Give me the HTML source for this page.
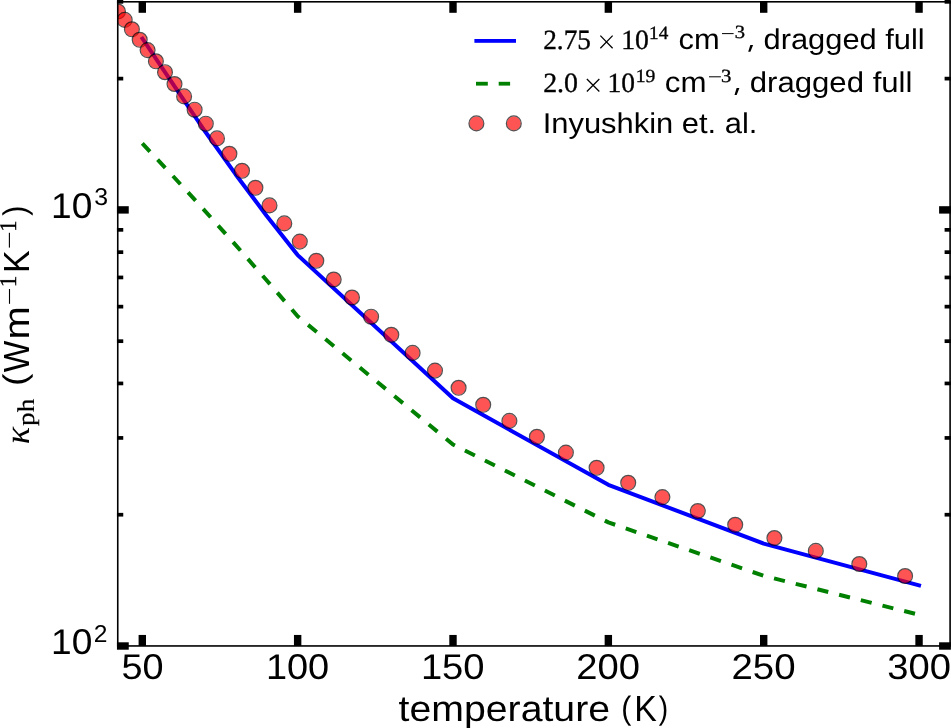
<!DOCTYPE html>
<html><head><meta charset="utf-8"><style>
html,body{margin:0;padding:0;background:#fff;}
svg{display:block;}
text{font-family:"Liberation Sans",sans-serif;text-rendering:geometricPrecision;}
.t{filter:grayscale(1);}
</style></head><body>
<svg width="951" height="728" viewBox="0 0 951 728">
<rect width="951" height="728" fill="#fff"/>
<defs><clipPath id="ax"><rect x="117.75" y="1.80" width="832.35" height="644.15"/></clipPath></defs>
<g clip-path="url(#ax)">
<polyline points="141.37,37.00 173.37,84.60 204.44,130.50 235.51,174.20 266.58,215.80 297.65,255.10 453.00,398.30 608.35,484.80 763.70,543.60 920.98,585.90" fill="none" stroke="#0000ff" stroke-width="4.00" stroke-linejoin="round" stroke-linecap="butt"/>
<polyline points="142.30,143.40 173.37,176.50 204.44,210.30 235.51,244.90 266.58,280.20 297.65,316.20 453.00,444.50 608.35,522.40 763.70,575.80 919.05,614.80" fill="none" stroke="#008000" stroke-width="4.00" stroke-linejoin="round" stroke-linecap="butt" stroke-dasharray="11.18 11.18" stroke-dashoffset="0"/>
<circle cx="118.00" cy="11.50" r="7.00" fill="#ff0000" fill-opacity="0.67"/><circle cx="118.00" cy="11.50" r="7.45" fill="none" stroke="#000" stroke-opacity="0.67" stroke-width="1.20"/>
<circle cx="124.70" cy="19.90" r="7.00" fill="#ff0000" fill-opacity="0.67"/><circle cx="124.70" cy="19.90" r="7.45" fill="none" stroke="#000" stroke-opacity="0.67" stroke-width="1.20"/>
<circle cx="131.90" cy="29.30" r="7.00" fill="#ff0000" fill-opacity="0.67"/><circle cx="131.90" cy="29.30" r="7.45" fill="none" stroke="#000" stroke-opacity="0.67" stroke-width="1.20"/>
<circle cx="139.70" cy="39.80" r="7.00" fill="#ff0000" fill-opacity="0.67"/><circle cx="139.70" cy="39.80" r="7.45" fill="none" stroke="#000" stroke-opacity="0.67" stroke-width="1.20"/>
<circle cx="147.60" cy="50.10" r="7.00" fill="#ff0000" fill-opacity="0.67"/><circle cx="147.60" cy="50.10" r="7.45" fill="none" stroke="#000" stroke-opacity="0.67" stroke-width="1.20"/>
<circle cx="155.90" cy="61.30" r="7.00" fill="#ff0000" fill-opacity="0.67"/><circle cx="155.90" cy="61.30" r="7.45" fill="none" stroke="#000" stroke-opacity="0.67" stroke-width="1.20"/>
<circle cx="165.00" cy="72.20" r="7.00" fill="#ff0000" fill-opacity="0.67"/><circle cx="165.00" cy="72.20" r="7.45" fill="none" stroke="#000" stroke-opacity="0.67" stroke-width="1.20"/>
<circle cx="174.50" cy="84.00" r="7.00" fill="#ff0000" fill-opacity="0.67"/><circle cx="174.50" cy="84.00" r="7.45" fill="none" stroke="#000" stroke-opacity="0.67" stroke-width="1.20"/>
<circle cx="184.10" cy="96.40" r="7.00" fill="#ff0000" fill-opacity="0.67"/><circle cx="184.10" cy="96.40" r="7.45" fill="none" stroke="#000" stroke-opacity="0.67" stroke-width="1.20"/>
<circle cx="194.60" cy="109.70" r="7.00" fill="#ff0000" fill-opacity="0.67"/><circle cx="194.60" cy="109.70" r="7.45" fill="none" stroke="#000" stroke-opacity="0.67" stroke-width="1.20"/>
<circle cx="205.80" cy="123.70" r="7.00" fill="#ff0000" fill-opacity="0.67"/><circle cx="205.80" cy="123.70" r="7.45" fill="none" stroke="#000" stroke-opacity="0.67" stroke-width="1.20"/>
<circle cx="217.00" cy="138.40" r="7.00" fill="#ff0000" fill-opacity="0.67"/><circle cx="217.00" cy="138.40" r="7.45" fill="none" stroke="#000" stroke-opacity="0.67" stroke-width="1.20"/>
<circle cx="229.40" cy="153.80" r="7.00" fill="#ff0000" fill-opacity="0.67"/><circle cx="229.40" cy="153.80" r="7.45" fill="none" stroke="#000" stroke-opacity="0.67" stroke-width="1.20"/>
<circle cx="242.00" cy="170.80" r="7.00" fill="#ff0000" fill-opacity="0.67"/><circle cx="242.00" cy="170.80" r="7.45" fill="none" stroke="#000" stroke-opacity="0.67" stroke-width="1.20"/>
<circle cx="255.40" cy="187.80" r="7.00" fill="#ff0000" fill-opacity="0.67"/><circle cx="255.40" cy="187.80" r="7.45" fill="none" stroke="#000" stroke-opacity="0.67" stroke-width="1.20"/>
<circle cx="269.50" cy="205.40" r="7.00" fill="#ff0000" fill-opacity="0.67"/><circle cx="269.50" cy="205.40" r="7.45" fill="none" stroke="#000" stroke-opacity="0.67" stroke-width="1.20"/>
<circle cx="284.30" cy="223.40" r="7.00" fill="#ff0000" fill-opacity="0.67"/><circle cx="284.30" cy="223.40" r="7.45" fill="none" stroke="#000" stroke-opacity="0.67" stroke-width="1.20"/>
<circle cx="299.80" cy="241.60" r="7.00" fill="#ff0000" fill-opacity="0.67"/><circle cx="299.80" cy="241.60" r="7.45" fill="none" stroke="#000" stroke-opacity="0.67" stroke-width="1.20"/>
<circle cx="316.30" cy="260.80" r="7.00" fill="#ff0000" fill-opacity="0.67"/><circle cx="316.30" cy="260.80" r="7.45" fill="none" stroke="#000" stroke-opacity="0.67" stroke-width="1.20"/>
<circle cx="333.70" cy="279.50" r="7.00" fill="#ff0000" fill-opacity="0.67"/><circle cx="333.70" cy="279.50" r="7.45" fill="none" stroke="#000" stroke-opacity="0.67" stroke-width="1.20"/>
<circle cx="352.00" cy="297.50" r="7.00" fill="#ff0000" fill-opacity="0.67"/><circle cx="352.00" cy="297.50" r="7.45" fill="none" stroke="#000" stroke-opacity="0.67" stroke-width="1.20"/>
<circle cx="371.10" cy="316.70" r="7.00" fill="#ff0000" fill-opacity="0.67"/><circle cx="371.10" cy="316.70" r="7.45" fill="none" stroke="#000" stroke-opacity="0.67" stroke-width="1.20"/>
<circle cx="391.30" cy="334.80" r="7.00" fill="#ff0000" fill-opacity="0.67"/><circle cx="391.30" cy="334.80" r="7.45" fill="none" stroke="#000" stroke-opacity="0.67" stroke-width="1.20"/>
<circle cx="412.60" cy="352.90" r="7.00" fill="#ff0000" fill-opacity="0.67"/><circle cx="412.60" cy="352.90" r="7.45" fill="none" stroke="#000" stroke-opacity="0.67" stroke-width="1.20"/>
<circle cx="435.00" cy="370.60" r="7.00" fill="#ff0000" fill-opacity="0.67"/><circle cx="435.00" cy="370.60" r="7.45" fill="none" stroke="#000" stroke-opacity="0.67" stroke-width="1.20"/>
<circle cx="458.60" cy="387.80" r="7.00" fill="#ff0000" fill-opacity="0.67"/><circle cx="458.60" cy="387.80" r="7.45" fill="none" stroke="#000" stroke-opacity="0.67" stroke-width="1.20"/>
<circle cx="483.20" cy="404.80" r="7.00" fill="#ff0000" fill-opacity="0.67"/><circle cx="483.20" cy="404.80" r="7.45" fill="none" stroke="#000" stroke-opacity="0.67" stroke-width="1.20"/>
<circle cx="509.40" cy="420.90" r="7.00" fill="#ff0000" fill-opacity="0.67"/><circle cx="509.40" cy="420.90" r="7.45" fill="none" stroke="#000" stroke-opacity="0.67" stroke-width="1.20"/>
<circle cx="536.90" cy="436.80" r="7.00" fill="#ff0000" fill-opacity="0.67"/><circle cx="536.90" cy="436.80" r="7.45" fill="none" stroke="#000" stroke-opacity="0.67" stroke-width="1.20"/>
<circle cx="565.90" cy="452.60" r="7.00" fill="#ff0000" fill-opacity="0.67"/><circle cx="565.90" cy="452.60" r="7.45" fill="none" stroke="#000" stroke-opacity="0.67" stroke-width="1.20"/>
<circle cx="596.60" cy="467.80" r="7.00" fill="#ff0000" fill-opacity="0.67"/><circle cx="596.60" cy="467.80" r="7.45" fill="none" stroke="#000" stroke-opacity="0.67" stroke-width="1.20"/>
<circle cx="628.20" cy="482.80" r="7.00" fill="#ff0000" fill-opacity="0.67"/><circle cx="628.20" cy="482.80" r="7.45" fill="none" stroke="#000" stroke-opacity="0.67" stroke-width="1.20"/>
<circle cx="662.40" cy="497.10" r="7.00" fill="#ff0000" fill-opacity="0.67"/><circle cx="662.40" cy="497.10" r="7.45" fill="none" stroke="#000" stroke-opacity="0.67" stroke-width="1.20"/>
<circle cx="697.80" cy="511.00" r="7.00" fill="#ff0000" fill-opacity="0.67"/><circle cx="697.80" cy="511.00" r="7.45" fill="none" stroke="#000" stroke-opacity="0.67" stroke-width="1.20"/>
<circle cx="735.20" cy="524.80" r="7.00" fill="#ff0000" fill-opacity="0.67"/><circle cx="735.20" cy="524.80" r="7.45" fill="none" stroke="#000" stroke-opacity="0.67" stroke-width="1.20"/>
<circle cx="774.40" cy="538.00" r="7.00" fill="#ff0000" fill-opacity="0.67"/><circle cx="774.40" cy="538.00" r="7.45" fill="none" stroke="#000" stroke-opacity="0.67" stroke-width="1.20"/>
<circle cx="815.80" cy="550.90" r="7.00" fill="#ff0000" fill-opacity="0.67"/><circle cx="815.80" cy="550.90" r="7.45" fill="none" stroke="#000" stroke-opacity="0.67" stroke-width="1.20"/>
<circle cx="859.30" cy="564.00" r="7.00" fill="#ff0000" fill-opacity="0.67"/><circle cx="859.30" cy="564.00" r="7.45" fill="none" stroke="#000" stroke-opacity="0.67" stroke-width="1.20"/>
<circle cx="905.10" cy="576.00" r="7.00" fill="#ff0000" fill-opacity="0.67"/><circle cx="905.10" cy="576.00" r="7.45" fill="none" stroke="#000" stroke-opacity="0.67" stroke-width="1.20"/>
</g>
<rect x="117.75" y="1.80" width="832.35" height="644.15" fill="none" stroke="#000" stroke-width="1.60"/>
<rect x="138.60" y="634.95" width="7.40" height="11.00" fill="#000"/>
<rect x="138.60" y="1.80" width="7.40" height="11.00" fill="#000"/>
<rect x="293.95" y="634.95" width="7.40" height="11.00" fill="#000"/>
<rect x="293.95" y="1.80" width="7.40" height="11.00" fill="#000"/>
<rect x="449.30" y="634.95" width="7.40" height="11.00" fill="#000"/>
<rect x="449.30" y="1.80" width="7.40" height="11.00" fill="#000"/>
<rect x="604.65" y="634.95" width="7.40" height="11.00" fill="#000"/>
<rect x="604.65" y="1.80" width="7.40" height="11.00" fill="#000"/>
<rect x="760.00" y="634.95" width="7.40" height="11.00" fill="#000"/>
<rect x="760.00" y="1.80" width="7.40" height="11.00" fill="#000"/>
<rect x="915.35" y="634.95" width="7.40" height="11.00" fill="#000"/>
<rect x="915.35" y="1.80" width="7.40" height="11.00" fill="#000"/>
<rect x="116.95" y="642.30" width="11.80" height="7.40" fill="#000"/>
<rect x="939.10" y="642.30" width="11.80" height="7.40" fill="#000"/>
<rect x="116.95" y="206.20" width="11.80" height="7.40" fill="#000"/>
<rect x="939.10" y="206.20" width="11.80" height="7.40" fill="#000"/>
<rect x="116.95" y="512.87" width="6.30" height="3.70" fill="#000"/>
<rect x="944.60" y="512.87" width="6.30" height="3.70" fill="#000"/>
<rect x="116.95" y="436.08" width="6.30" height="3.70" fill="#000"/>
<rect x="944.60" y="436.08" width="6.30" height="3.70" fill="#000"/>
<rect x="116.95" y="381.59" width="6.30" height="3.70" fill="#000"/>
<rect x="944.60" y="381.59" width="6.30" height="3.70" fill="#000"/>
<rect x="116.95" y="339.33" width="6.30" height="3.70" fill="#000"/>
<rect x="944.60" y="339.33" width="6.30" height="3.70" fill="#000"/>
<rect x="116.95" y="304.80" width="6.30" height="3.70" fill="#000"/>
<rect x="944.60" y="304.80" width="6.30" height="3.70" fill="#000"/>
<rect x="116.95" y="275.60" width="6.30" height="3.70" fill="#000"/>
<rect x="944.60" y="275.60" width="6.30" height="3.70" fill="#000"/>
<rect x="116.95" y="250.31" width="6.30" height="3.70" fill="#000"/>
<rect x="944.60" y="250.31" width="6.30" height="3.70" fill="#000"/>
<rect x="116.95" y="228.00" width="6.30" height="3.70" fill="#000"/>
<rect x="944.60" y="228.00" width="6.30" height="3.70" fill="#000"/>
<rect x="116.95" y="76.77" width="6.30" height="3.70" fill="#000"/>
<rect x="944.60" y="76.77" width="6.30" height="3.70" fill="#000"/>
<rect x="116.95" y="-0.02" width="6.30" height="3.70" fill="#000"/>
<rect x="944.60" y="-0.02" width="6.30" height="3.70" fill="#000"/>
<g class="t">
<text transform="translate(51.07 218.30) scale(1.0366 1)" style='font-family:"Liberation Sans", sans-serif;font-size:35.80px;' fill="#000">10</text>
<text transform="translate(94.15 205.40) scale(1.0242 1)" style='font-family:"Liberation Sans", sans-serif;font-size:24.30px;' fill="#000">3</text>
<text transform="translate(51.07 654.40) scale(1.0366 1)" style='font-family:"Liberation Sans", sans-serif;font-size:35.80px;' fill="#000">10</text>
<text transform="translate(93.86 642.10) scale(1.0117 1)" style='font-family:"Liberation Sans", sans-serif;font-size:24.30px;' fill="#000">2</text>
<text transform="translate(121.38 679.20) scale(1.0571 1)" style='font-family:"Liberation Sans", sans-serif;font-size:35.80px;' fill="#000">50</text>
<text transform="translate(265.91 679.20) scale(1.0593 1)" style='font-family:"Liberation Sans", sans-serif;font-size:35.80px;' fill="#000">100</text>
<text transform="translate(420.89 679.20) scale(1.0664 1)" style='font-family:"Liberation Sans", sans-serif;font-size:35.80px;' fill="#000">150</text>
<text transform="translate(576.28 679.20) scale(1.0667 1)" style='font-family:"Liberation Sans", sans-serif;font-size:35.80px;' fill="#000">200</text>
<text transform="translate(731.47 679.20) scale(1.0737 1)" style='font-family:"Liberation Sans", sans-serif;font-size:35.80px;' fill="#000">250</text>
<text transform="translate(887.35 679.20) scale(1.0655 1)" style='font-family:"Liberation Sans", sans-serif;font-size:35.80px;' fill="#000">300</text>
<text transform="translate(398.51 721.30) scale(1.0843 1)" style='font-family:"Liberation Sans", sans-serif;font-size:36.20px;' fill="#000">temperature</text>
<text transform="translate(621.23 718.67) scale(0.9277 1)" style='font-family:"Liberation Sans", sans-serif;font-size:32.52px;' fill="#000">(</text>
<text transform="translate(634.23 721.30) scale(0.9341 1)" style='font-family:"Liberation Sans", sans-serif;font-size:36.20px;' fill="#000">K</text>
<text transform="translate(658.73 718.67) scale(0.8698 1)" style='font-family:"Liberation Sans", sans-serif;font-size:32.52px;' fill="#000">)</text>
<g transform="rotate(-90)"><text transform="translate(-444.13 28.90) scale(1.0293 1)" style='font-family:"Liberation Serif", serif;font-size:35.30px;font-style:italic;' fill="#000">κ</text><text transform="translate(-425.94 34.30) scale(1.1332 1)" style='font-family:"Liberation Serif", serif;font-size:24.00px;stroke:#000;stroke-width:0.20px;' fill="#000">ph</text><text transform="translate(-386.12 26.22) scale(1.1405 1)" style='font-family:"Liberation Sans", sans-serif;font-size:32.74px;' fill="#000">(</text><text transform="translate(-372.35 28.75) scale(0.9237 1)" style='font-family:"Liberation Sans", sans-serif;font-size:36.20px;' fill="#000">W</text><text transform="translate(-339.45 28.75) scale(1.1039 1)" style='font-family:"Liberation Sans", sans-serif;font-size:36.20px;' fill="#000">m</text><rect x="-303.80" y="8.95" width="14.80" height="1.10" fill="#000"/><text transform="translate(-287.25 16.10) scale(0.9705 1)" style='font-family:"Liberation Serif", serif;font-size:24.00px;stroke:#000;stroke-width:0.35px;' fill="#000">1</text><text transform="translate(-272.99 28.75) scale(0.9389 1)" style='font-family:"Liberation Sans", sans-serif;font-size:36.20px;' fill="#000">K</text><rect x="-247.60" y="8.85" width="14.80" height="1.10" fill="#000"/><text transform="translate(-231.87 16.10) scale(0.9350 1)" style='font-family:"Liberation Serif", serif;font-size:24.00px;stroke:#000;stroke-width:0.35px;' fill="#000">1</text><text transform="translate(-215.68 26.34) scale(0.9362 1)" style='font-family:"Liberation Sans", sans-serif;font-size:32.63px;' fill="#000">)</text></g>
</g>
<rect x="474.40" y="39.00" width="41.60" height="3.80" fill="#0000ff"/>
<rect x="476.00" y="81.80" width="11.80" height="3.80" fill="#008000"/>
<rect x="498.70" y="81.80" width="11.40" height="3.80" fill="#008000"/>
<circle cx="476.40" cy="123.40" r="7.00" fill="#ff0000" fill-opacity="0.67"/><circle cx="476.40" cy="123.40" r="7.45" fill="none" stroke="#000" stroke-opacity="0.67" stroke-width="1.20"/>
<circle cx="513.80" cy="123.40" r="7.00" fill="#ff0000" fill-opacity="0.67"/><circle cx="513.80" cy="123.40" r="7.45" fill="none" stroke="#000" stroke-opacity="0.67" stroke-width="1.20"/>
<g class="t">
<text transform="translate(543.20 48.80) scale(0.9818 1)" style='font-family:"Liberation Serif", serif;font-size:27.80px;stroke:#000;stroke-width:0.35px;' fill="#000">2.75</text>
<path d="M600.36 35.56L612.64 48.24M612.64 35.56L600.36 48.24" stroke="#000" stroke-width="1.25" fill="none"/>
<text transform="translate(621.27 48.80) scale(0.9960 1)" style='font-family:"Liberation Serif", serif;font-size:27.80px;stroke:#000;stroke-width:0.35px;' fill="#000">10</text>
<text transform="translate(649.11 38.90) scale(1.0315 1)" style='font-family:"Liberation Serif", serif;font-size:18.60px;stroke:#000;stroke-width:0.35px;' fill="#000">14</text>
<text transform="translate(678.59 48.80) scale(1.0793 1)" style='font-family:"Liberation Sans", sans-serif;font-size:28.60px;' fill="#000">cm</text>
<rect x="722.00" y="33.10" width="11.60" height="1.00" fill="#000"/>
<text transform="translate(734.72 38.40) scale(1.1063 1)" style='font-family:"Liberation Serif", serif;font-size:18.60px;stroke:#000;stroke-width:0.35px;' fill="#000">3</text>
<path d="M750.30 45.00L753.10 45.00L750.40 51.80L748.20 51.80Z" fill="#000"/>
<text transform="translate(763.50 48.80) scale(1.0789 1)" style='font-family:"Liberation Sans", sans-serif;font-size:28.60px;' fill="#000">dragged full</text>
<text transform="translate(543.17 91.90) scale(1.0040 1)" style='font-family:"Liberation Serif", serif;font-size:27.80px;stroke:#000;stroke-width:0.35px;' fill="#000">2.0</text>
<path d="M586.86 79.06L599.34 91.54M599.34 79.06L586.86 91.54" stroke="#000" stroke-width="1.25" fill="none"/>
<text transform="translate(607.49 91.90) scale(0.9877 1)" style='font-family:"Liberation Serif", serif;font-size:27.80px;stroke:#000;stroke-width:0.35px;' fill="#000">10</text>
<text transform="translate(635.77 82.30) scale(1.0554 1)" style='font-family:"Liberation Serif", serif;font-size:18.60px;stroke:#000;stroke-width:0.35px;' fill="#000">19</text>
<text transform="translate(664.87 91.90) scale(1.0935 1)" style='font-family:"Liberation Sans", sans-serif;font-size:28.60px;' fill="#000">cm</text>
<rect x="709.00" y="76.30" width="11.90" height="1.00" fill="#000"/>
<text transform="translate(720.90 82.20) scale(1.1193 1)" style='font-family:"Liberation Serif", serif;font-size:18.60px;stroke:#000;stroke-width:0.35px;' fill="#000">3</text>
<path d="M736.60 88.10L739.40 88.10L736.70 94.90L734.50 94.90Z" fill="#000"/>
<text transform="translate(749.69 91.90) scale(1.0892 1)" style='font-family:"Liberation Sans", sans-serif;font-size:28.60px;' fill="#000">dragged full</text>
<text transform="translate(542.65 132.80) scale(1.0808 1)" style='font-family:"Liberation Sans", sans-serif;font-size:28.60px;' fill="#000">Inyushkin et. al.</text>
</g>
</svg>
</body></html>
